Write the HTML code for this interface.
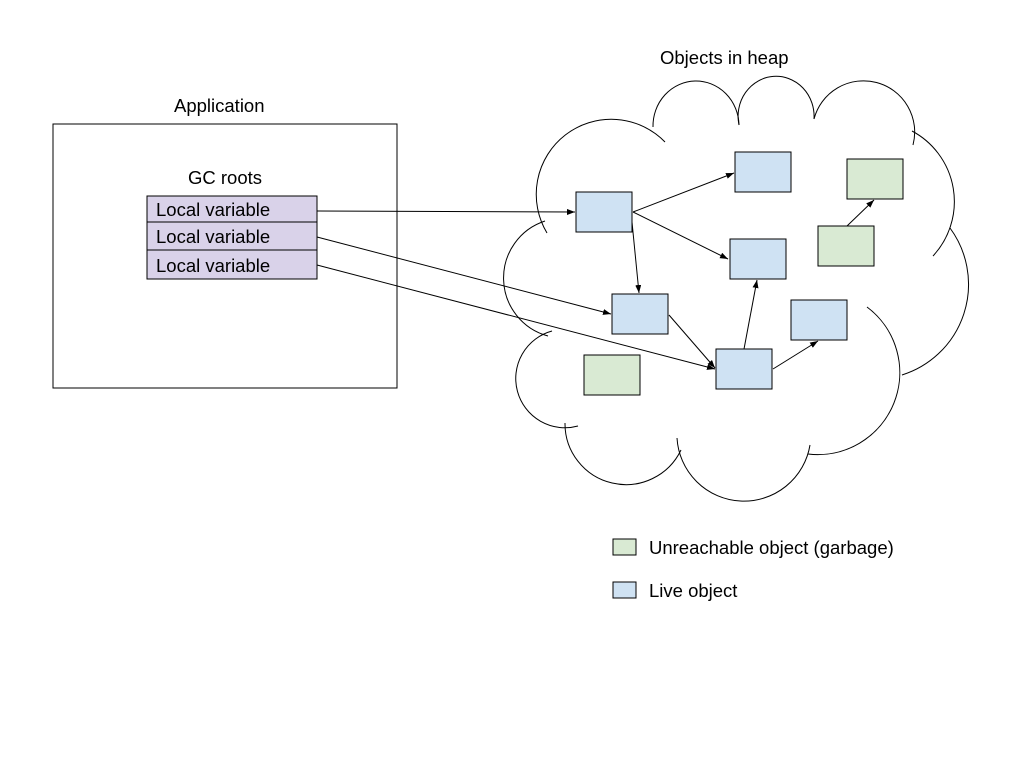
<!DOCTYPE html>
<html><head><style>body{margin:0;background:#fff}svg{display:block}text{font-family:"Liberation Sans",sans-serif;font-size:18.5px;fill:#000}</style></head>
<body>
<svg width="1024" height="768" xmlns="http://www.w3.org/2000/svg">
<defs><marker id="a" markerWidth="8" markerHeight="6" refX="8" refY="3" orient="auto" markerUnits="userSpaceOnUse"><path d="M0,0 L8,3 L0,6 Z" fill="#000"/></marker></defs>
<rect x="53" y="124" width="344" height="264" fill="#fff" stroke="#000"/>
<text x="174" y="112">Application</text>
<text x="188" y="184">GC roots</text>
<g fill="#d9d2e9" stroke="#000">
<rect x="147" y="196" width="170" height="26"/><rect x="147" y="222" width="170" height="28"/><rect x="147" y="250" width="170" height="29"/></g>
<text x="156" y="216">Local variable</text><text x="156" y="243">Local variable</text><text x="156" y="272">Local variable</text>
<text x="660" y="64">Objects in heap</text>
<g fill="none" stroke="#000" stroke-width="1">
<path d="M547 233 A75 75 0 0 1 665 142"/>
<path d="M653 127 A43 45 0 0 1 739 125"/>
<path d="M739 125 A38 40 0 1 1 814 119"/>
<path d="M814 119 A51 51 0 1 1 913 145"/>
<path d="M912 131 A80 80 0 0 1 933 256"/>
<path d="M950 228 A95 95 0 0 1 902 375"/>
<path d="M867 307 A82 82 0 0 1 808 454"/>
<path d="M810 445 A67 67 0 0 1 677 438"/>
<path d="M681 450 A61 61 0 0 1 565 423"/>
<path d="M578 426 A49 49 0 1 1 552 331"/>
<path d="M548 336 A60 60 0 0 1 545 221"/>
</g>
<g stroke="#000" fill="#cfe2f3">
<rect x="576" y="192" width="56" height="40"/><rect x="735" y="152" width="56" height="40"/>
<rect x="730" y="239" width="56" height="40"/><rect x="612" y="294" width="56" height="40"/>
<rect x="791" y="300" width="56" height="40"/><rect x="716" y="349" width="56" height="40"/>
</g>
<g stroke="#000" fill="#d9ead3">
<rect x="847" y="159" width="56" height="40"/><rect x="818" y="226" width="56" height="40"/><rect x="584" y="355" width="56" height="40"/>
</g>
<g stroke="#000" marker-end="url(#a)">
<line x1="317" y1="211" x2="575" y2="212"/>
<line x1="317" y1="237" x2="611" y2="314"/>
<line x1="317" y1="265" x2="715" y2="369"/>
<line x1="633" y1="212" x2="734" y2="173"/>
<line x1="633" y1="212" x2="728" y2="259"/>
<line x1="632" y1="222" x2="639" y2="293"/>
<line x1="669" y1="315" x2="715" y2="368"/>
<line x1="744" y1="349" x2="757" y2="280"/>
<line x1="773" y1="369" x2="818" y2="341"/>
<line x1="847" y1="226" x2="874" y2="200"/>
</g>
<rect x="613" y="539" width="23" height="16" fill="#d9ead3" stroke="#000"/>
<rect x="613" y="582" width="23" height="16" fill="#cfe2f3" stroke="#000"/>
<text x="649" y="554">Unreachable object (garbage)</text>
<text x="649" y="597">Live object</text>
</svg>
</body></html>
